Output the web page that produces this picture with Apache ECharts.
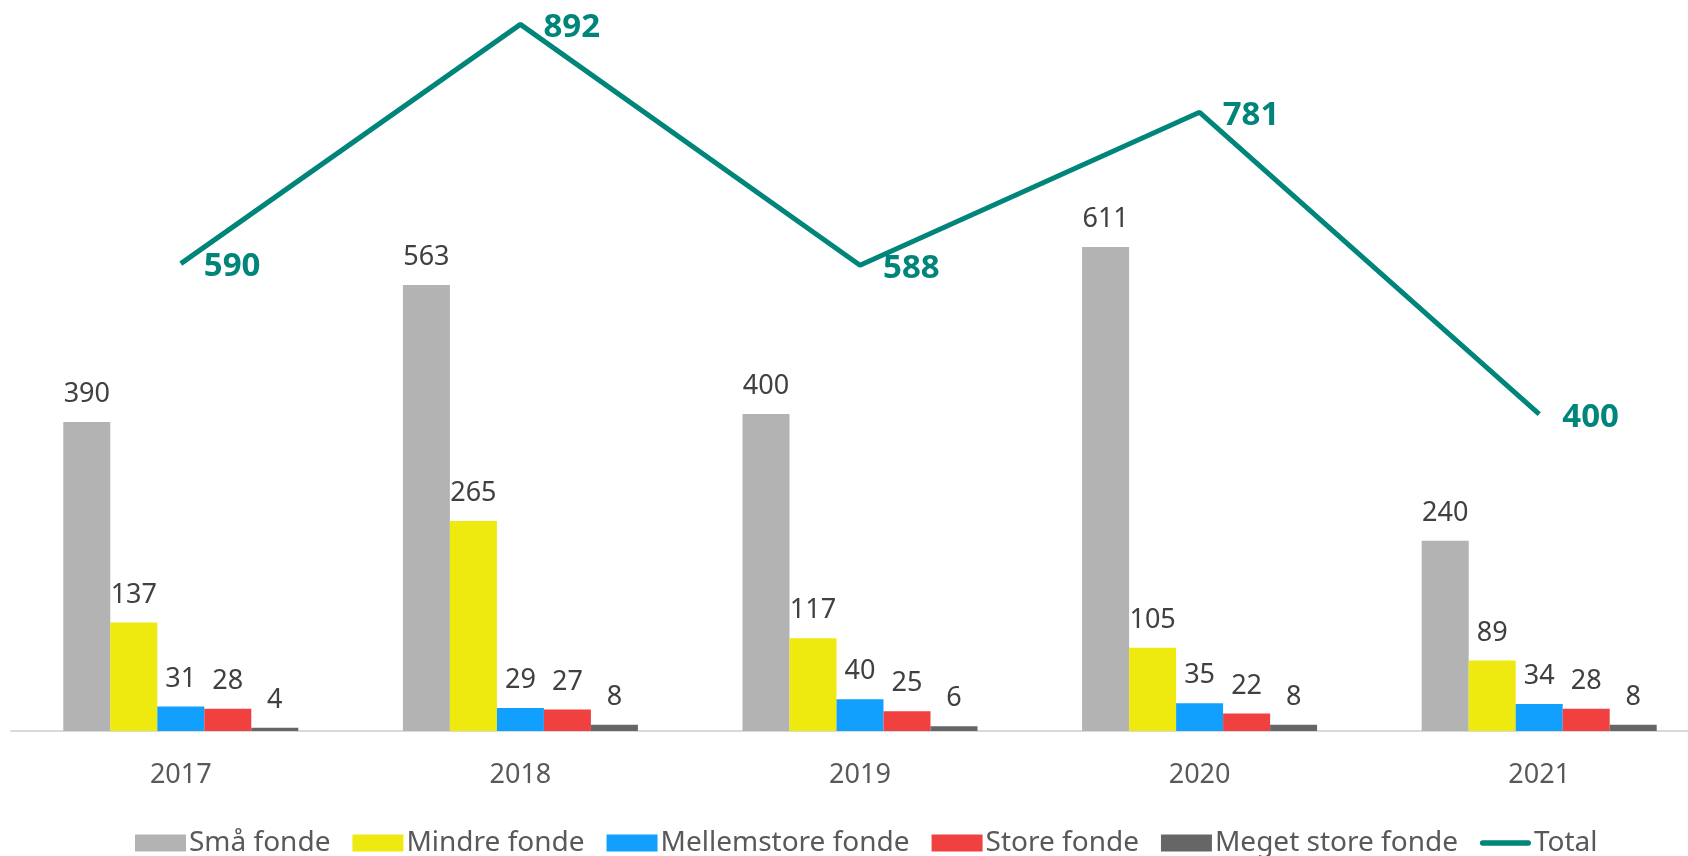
<!DOCTYPE html>
<html>
<head>
<meta charset="utf-8">
<script src="https://cdn.jsdelivr.net/npm/echarts@6/dist/echarts.min.js"></script>
<style>
  html, body { margin: 0; padding: 0; background: #fff; overflow: hidden; width: 1688px; height: 856px; }
  /* the plot runs a little past the right edge of the picture, like the original */
  #chart { width: 1709px; height: 856px; }
</style>
</head>
<body>
<div id="chart"></div>
<script>
var years = ['2017', '2018', '2019', '2020', '2021'];
var smaFonde = [390, 563, 400, 611, 240];
var mindreFonde = [137, 265, 117, 105, 89];
var mellemstoreFonde = [31, 29, 40, 35, 34];
var storeFonde = [28, 27, 25, 22, 28];
var megetStoreFonde = [4, 8, 6, 8, 8];
var total = [590, 892, 588, 781, 400];

var font = '"Noto Sans", "Open Sans", sans-serif';
var teal = '#00857a';

function barSerie(name, data, color) {
    return {
        name: name,
        type: 'bar',
        data: data,
        barWidth: 47,
        barGap: '0%',
        itemStyle: { color: color },
        label: {
            show: true,
            position: 'top',
            distance: 14,
            color: '#404040',
            fontFamily: font,
            fontSize: 27
        }
    };
}

var option = {
    backgroundColor: '#ffffff',
    animation: false,
    grid: { left: 11, right: 0, top: 18, bottom: 125, containLabel: false },
    legend: {
        left: 130,
        top: 824,
        itemWidth: 51,
        itemHeight: 17,
        itemGap: 22,
        textStyle: { color: '#595959', fontFamily: font, fontSize: 28, padding: [0, 0, 0, -2] },
        data: [
            { name: 'Små fonde', icon: 'rect' },
            { name: 'Mindre fonde', icon: 'rect' },
            { name: 'Mellemstore fonde', icon: 'rect' },
            { name: 'Store fonde', icon: 'rect' },
            { name: 'Meget store fonde', icon: 'rect' },
            { name: 'Total', icon: 'path://M3,0 L54,0 A3,3 0 0 1 54,6 L3,6 A3,3 0 0 1 3,0 Z' }
        ]
    },
    xAxis: {
        type: 'category',
        data: years,
        axisLine: { show: true, lineStyle: { color: '#d9d9d9', width: 2 } },
        axisTick: { show: false },
        axisLabel: { color: '#595959', fontFamily: font, fontSize: 27, margin: 31 }
    },
    yAxis: {
        type: 'value',
        min: 0,
        max: 900,
        show: false,
        splitLine: { show: false }
    },
    series: [
        barSerie('Små fonde', smaFonde, '#b3b3b3'),
        barSerie('Mindre fonde', mindreFonde, '#eeea10'),
        barSerie('Mellemstore fonde', mellemstoreFonde, '#12a0ff'),
        barSerie('Store fonde', storeFonde, '#f04040'),
        barSerie('Meget store fonde', megetStoreFonde, '#666666'),
        {
            name: 'Total',
            type: 'line',
            data: total,
            z: 5,
            symbol: 'circle',
            symbolSize: 0.1,
            showSymbol: true,
            itemStyle: { color: teal },
            lineStyle: { color: teal, width: 5 },
            label: {
                show: true,
                position: 'right',
                distance: 23,
                offset: [0, 3],
                color: teal,
                fontFamily: font,
                fontWeight: 'bold',
                fontSize: 33
            }
        }
    ]
};

var myChart = echarts.init(document.getElementById('chart'));
myChart.setOption(option);
</script>
</body>
</html>
